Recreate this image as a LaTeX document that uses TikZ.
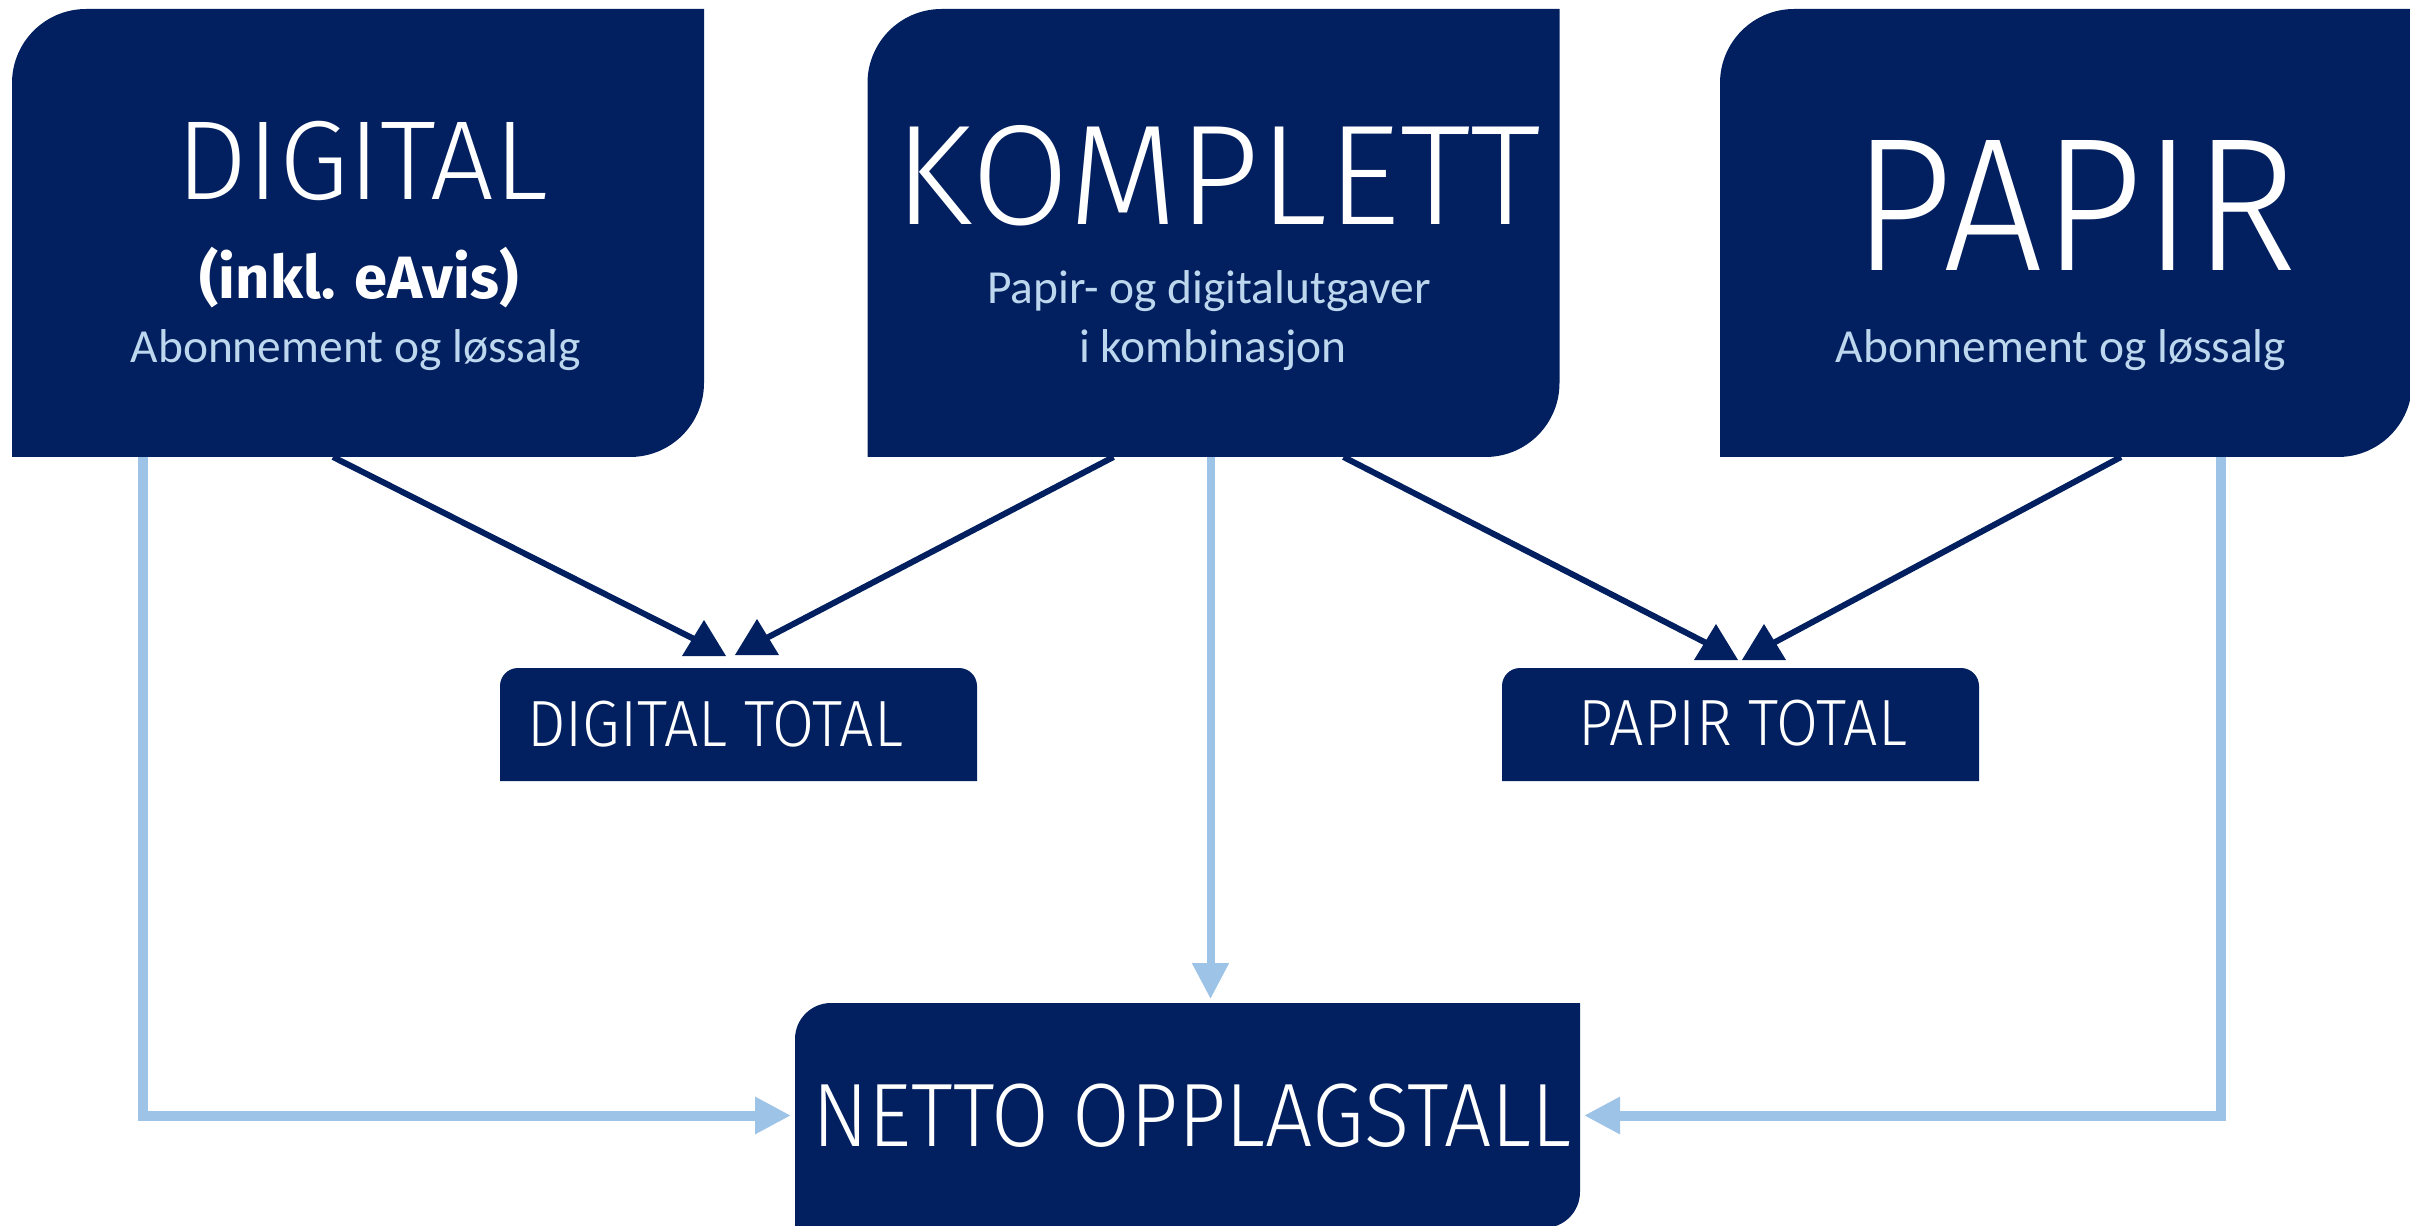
\documentclass[tikz,border=0pt]{standalone}
\usepackage{fontspec}
\usetikzlibrary{arrows.meta}
\newfontfamily\thinfont{Fira Sans Light}
\newfontfamily\narrowfont{Fira Sans Light}[FakeStretch=0.93]
\newfontfamily\notefont{Fira Sans}
\newfontfamily\subfont{Carlito}
\definecolor{navy}{RGB}{2,32,96}
\definecolor{skyline}{RGB}{157,195,230}
\definecolor{subtext}{RGB}{189,215,238}

\begin{document}
\begin{tikzpicture}
[
    x=0.1mm, y=-0.1mm,
    bigbox/.style={minimum width=69.2mm, minimum height=44.8mm, inner sep=0pt, outer sep=0pt},
    totalbox/.style={minimum width=47.7mm, minimum height=11.3mm, inner sep=0pt, outer sep=0pt},
    nettobox/.style={minimum width=78.5mm, minimum height=22.5mm, inner sep=0pt, outer sep=0pt},
    label/.style={anchor=base, inner sep=0pt, text=white},
    sublabel/.style={anchor=base, inner sep=0pt, text=subtext, font=\subfont\fontsize{13.5}{13.5}\selectfont},
    navyline/.style={draw=navy, line width=0.6mm},
    skyarrow/.style={draw=skyline, line width=1mm, -{Triangle[length=3.6mm, width=3.5mm]}, shorten >=0.4mm},
    uphead/.pic={\fill[navy] (0,-24) -- (22,12) -- (-22,12) -- cycle;},
]
\useasboundingbox (0,0) rectangle (2410,1226);

% the three sources
\node[bigbox] (digital) at (358,233) {};
\node[bigbox] (komplett) at (1213.5,233) {};
\node[bigbox] (papir) at (2066,233) {};
\node[totalbox] (dtotal) at (738.5,724.5) {};
\node[totalbox] (ptotal) at (1740.5,724.5) {};
\node[nettobox] (netto) at (1187.5,1115.5) {};

% box shapes: two rounded corners on the diagonal
\foreach \b/\r in {digital/7.4mm,komplett/7.4mm,papir/7.4mm,netto/3.6mm}
    \fill[navy] (\b.south west) -- ([yshift=-\r]\b.north west) arc[start angle=180, end angle=90, radius=\r]
        -- (\b.north east) -- ([yshift=\r]\b.south east) arc[start angle=0, end angle=-90, radius=\r] -- cycle;
\foreach \b in {dtotal,ptotal}
    \fill[navy] (\b.south west) -- ([yshift=-1.8mm]\b.north west) arc[start angle=180, end angle=90, radius=1.8mm]
        -- ([xshift=-1.8mm]\b.north east) arc[start angle=90, end angle=0, radius=1.8mm] -- (\b.south east) -- cycle;

\node[label, font=\thinfont\fontsize{32}{32}\selectfont] (digital-title) at (362,200) {DIGITAL};
\node[label, font=\notefont\bfseries\fontsize{17}{17}\selectfont] (digital-note) at (359,299) {(inkl. eAvis)};
\node[sublabel] (digital-sub) at (356,363) {Abonnement og løssalg};

\node[label, font=\thinfont\fontsize{40.5}{40.5}\selectfont] (komplett-title) at (1218,225) {KOMPLETT};
\node[sublabel] (komplett-sub1) at (1209,304) {Papir- og digitalutgaver};
\node[sublabel] (komplett-sub2) at (1213,363) {i kombinasjon};

\node[label, font=\narrowfont\fontsize{54}{54}\selectfont] (papir-title) at (2075,271) {PAPIR};
\node[sublabel] (papir-sub) at (2061,363) {Abonnement og løssalg};

% totals
\node[label, font=\narrowfont\fontsize{18.6}{18.6}\selectfont] (dtotal-text) at (715,746) {DIGITAL TOTAL};
\node[label, font=\narrowfont\fontsize{18.6}{18.6}\selectfont] (ptotal-text) at (1743,745) {PAPIR TOTAL};
\node[label, font=\narrowfont\fontsize{25.6}{25.6}\selectfont] (netto-text) at (1192,1146) {NETTO OPPLAGSTALL};

% arrow heads
\coordinate (h1) at ([shift={(-34.5,-24)}]dtotal.north);
\coordinate (h2) at ([shift={(18.5,-25)}]dtotal.north);
\coordinate (h3) at ([shift={(-24.5,-20)}]ptotal.north);
\coordinate (h4) at ([shift={(23.5,-20)}]ptotal.north);

\draw[navyline] ([xshift=-2.5mm]digital.south) -- (h1);
\draw[navyline] ([xshift=-10mm]komplett.south) -- (h2);
\draw[navyline] ([xshift=13mm]komplett.south) -- (h3);
\draw[navyline] ([xshift=5.5mm]papir.south) -- (h4);
\foreach \h in {h1,h2,h3,h4}
    \pic at (\h) {uphead};

\draw[skyarrow] ([xshift=-21.5mm]digital.south) |- (netto.west);
\draw[skyarrow, line width=0.8mm] ([xshift=-0.3mm]komplett.south) -- ([xshift=-0.3mm]komplett.south |- netto.north);
\draw[skyarrow] ([xshift=15.5mm]papir.south) |- (netto.east);
\end{tikzpicture}
\end{document}
